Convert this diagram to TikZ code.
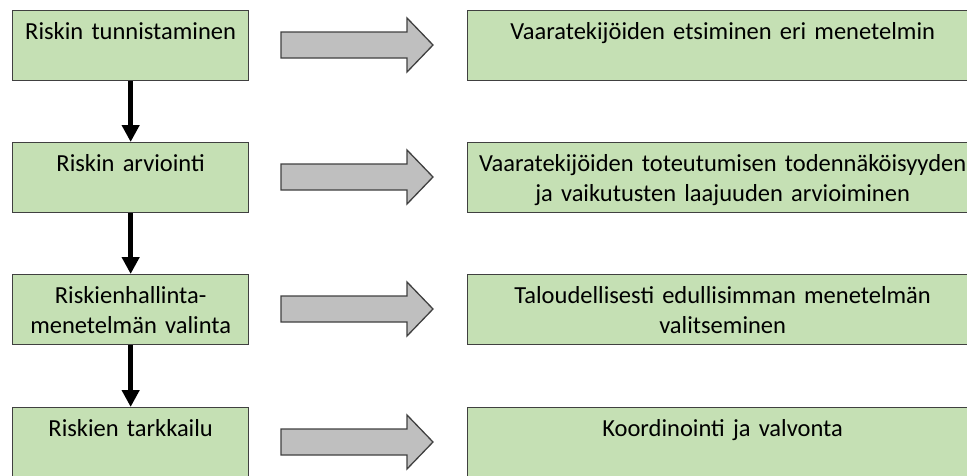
\documentclass[tikz,border=0pt]{standalone}
\usepackage{fontspec}
\setmainfont[WordSpace=0.6]{Carlito}
\usetikzlibrary{arrows.meta,calc}
\definecolor{boxgreen}{HTML}{C5E0B4}
\definecolor{boxline}{HTML}{404040}
\definecolor{arrowgray}{HTML}{BFBFBF}

\begin{document}
\begin{tikzpicture}[x=1pt,y=-1pt,
  stagebox/.style={draw=boxline, line width=1.3pt, fill=boxgreen,
    minimum width=236pt, minimum height=70pt, inner sep=0pt, anchor=north west},
  taskbox/.style={stagebox, minimum width=510pt},
  lbl/.style={inner sep=0pt, align=center, anchor=base,
    font=\fontsize{24.5}{30}\selectfont},
  flow/.style={line width=5pt, -{Triangle[length=17pt,width=17pt]}},
  grayarrow/.style={draw=boxline, line width=1.3pt, fill=arrowgray, line join=miter}
]
\useasboundingbox (0,0) rectangle (967,475);
\clip (0,0) rectangle (967,475);

% process stages (left) and the tasks belonging to them (right)
\foreach \i/\top in {1/10, 2/142, 3/274, 4/407} {
  \node[stagebox] (l\i) at (12,\top) {};
  \node[taskbox] (r\i) at (467,\top) {};
  \coordinate (a\i) at (281,\top+35);
  \draw[grayarrow] (a\i) ++(0,-13) -- ++(126,0) -- ++(0,-14) -- ++(26,27)
    -- ++(-26,27) -- ++(0,-14) -- ++(-126,0) -- cycle;
}

\node[lbl, text width=236pt] (t1) at ($(l1.north)+(0,29)$) {Riskin tunnistaminen};
\node[lbl, text width=236pt] (t2) at ($(l2.north)+(0,29)$) {Riskin arviointi};
\node[lbl, text width=236pt] (t3) at ($(l3.north)+(0,29)$) {Riskienhallinta-\\menetelmän valinta};
\node[lbl, text width=236pt] (t4) at ($(l4.north)+(0,29)$) {Riskien tarkkailu};

\node[lbl, text width=510pt] (s1) at ($(r1.north)+(0,29)$) {Vaaratekijöiden etsiminen eri menetelmin};
\node[lbl, text width=510pt] (s2) at ($(r2.north)+(0,29)$) {Vaaratekijöiden toteutumisen todennäköisyyden\\ja vaikutusten laajuuden arvioiminen};
\node[lbl, text width=510pt] (s3) at ($(r3.north)+(0,29)$) {Taloudellisesti edullisimman menetelmän\\valitseminen};
\node[lbl, text width=510pt] (s4) at ($(r4.north)+(0,29)$) {Koordinointi ja valvonta};

% sequence of the stages
\draw[flow] (l1.south) -- (l2.north);
\draw[flow] (l2.south) -- (l3.north);
\draw[flow] (l3.south) -- (l4.north);
\end{tikzpicture}
\end{document}
